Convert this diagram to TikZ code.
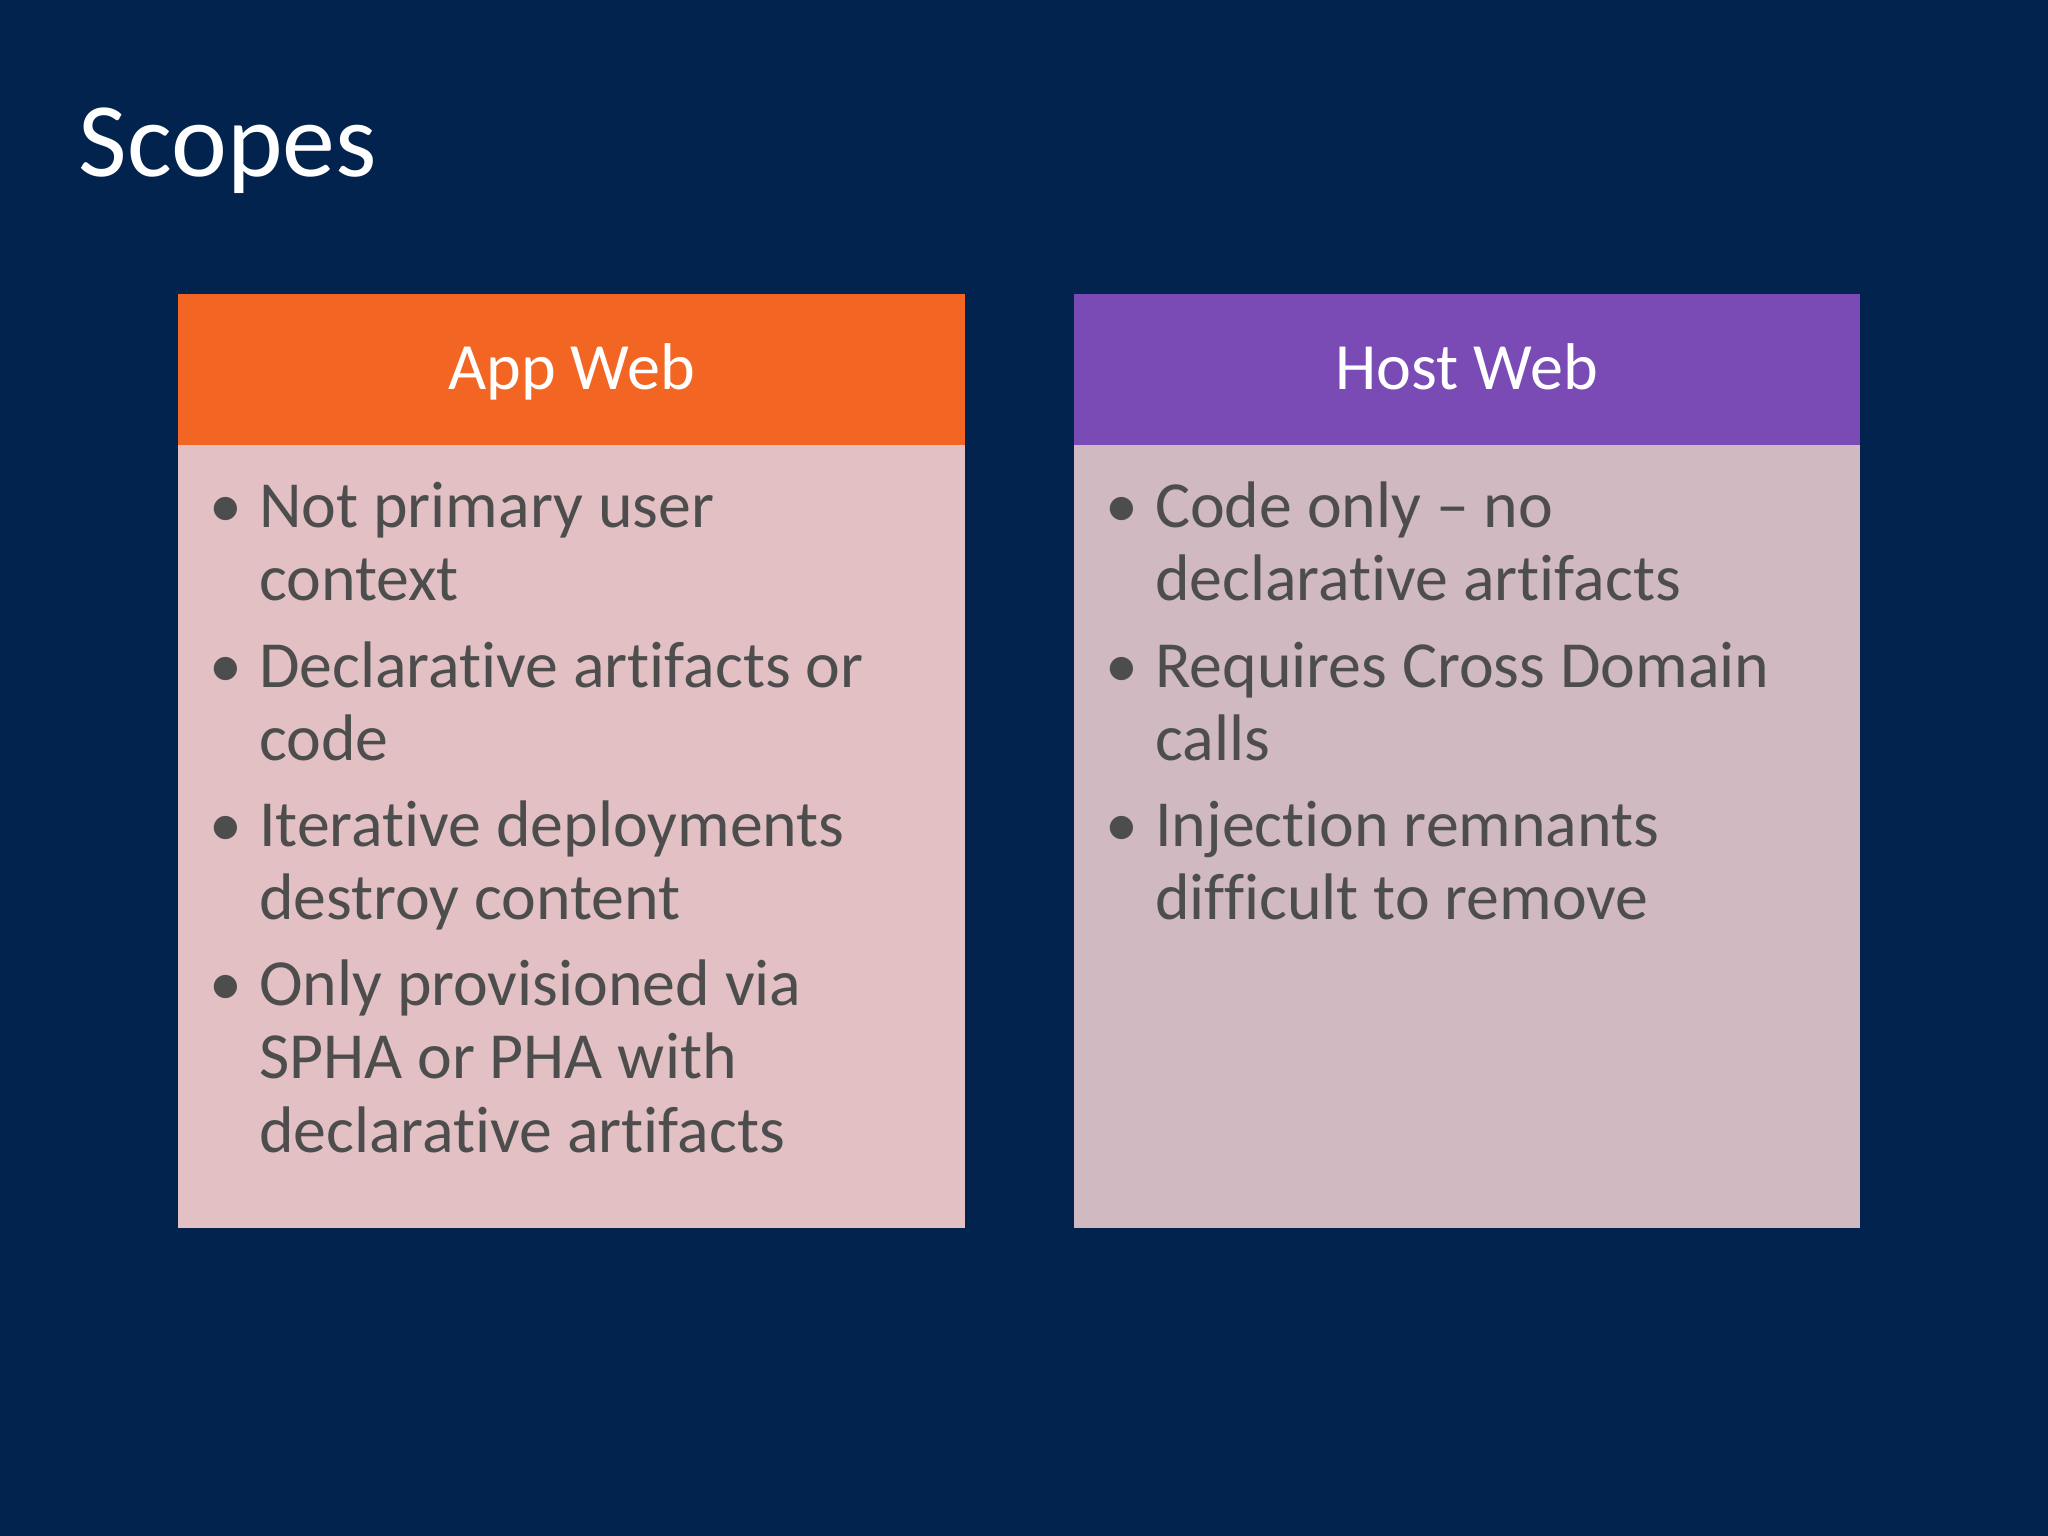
\documentclass[tikz,border=0pt]{standalone}
\usepackage{fontspec}
\setmainfont{Carlito}[Ligatures={NoCommon}]
\definecolor{bg}{HTML}{03234F}
\definecolor{orng}{HTML}{F26522}
\definecolor{purp}{HTML}{7B4BB5}
\definecolor{lbody}{HTML}{E2C0C3}
\definecolor{rbody}{HTML}{D0B9C0}
\definecolor{txt}{HTML}{4D4D4D}
\begin{document}
\begin{tikzpicture}[x=0.5pt,y=-0.5pt,
  ln/.style={anchor=base west,inner sep=0,text=txt,font=\fontsize{25.2}{28}\selectfont},
  bul/.style={anchor=base west,inner sep=0,text=txt,font=\fontsize{25.2}{28}\selectfont},
  hd/.style={anchor=base,inner sep=0,text=white,font=\fontsize{25.3}{28}\selectfont}]
\fill[bg] (0,0) rectangle (1568,1176);
\useasboundingbox (0,0) rectangle (1568,1176);
\node[anchor=base west,inner sep=0,text=white,font=\fontsize{40.5}{44}\selectfont] (title) at (60,135) {Scopes};
% left
\fill[lbody] (136,340) rectangle (739,940);
\fill[orng] (136,225) rectangle (739,341);
\node[hd] (h1) at (437.5,298) {App Web};
\foreach \y/\t [count=\i] in {404/Not primary user,460/context,526/Declarative artifacts or,582/code,648/Iterative deployments,704/destroy content,770/Only provisioned via,826/SPHA or PHA with,882/declarative artifacts}
  \node[ln] (l\i) at (198,\y) {\t};
\foreach \y [count=\i] in {404,526,648,770} \node[bul] (lb\i) at (160,\y) {•};
% right
\fill[rbody] (822,340) rectangle (1424,940);
\fill[purp] (822,225) rectangle (1424,341);
\node[hd] (h2) at (1123,298) {Host Web};
\foreach \y/\t [count=\i] in {404/Code only – no,460/declarative artifacts,526/Requires Cross Domain,582/calls,648/Injection remnants,704/difficult to remove}
  \node[ln] (r\i) at (884,\y) {\t};
\foreach \y [count=\i] in {404,526,648} \node[bul] (rb\i) at (846,\y) {•};
\end{tikzpicture}
\end{document}
